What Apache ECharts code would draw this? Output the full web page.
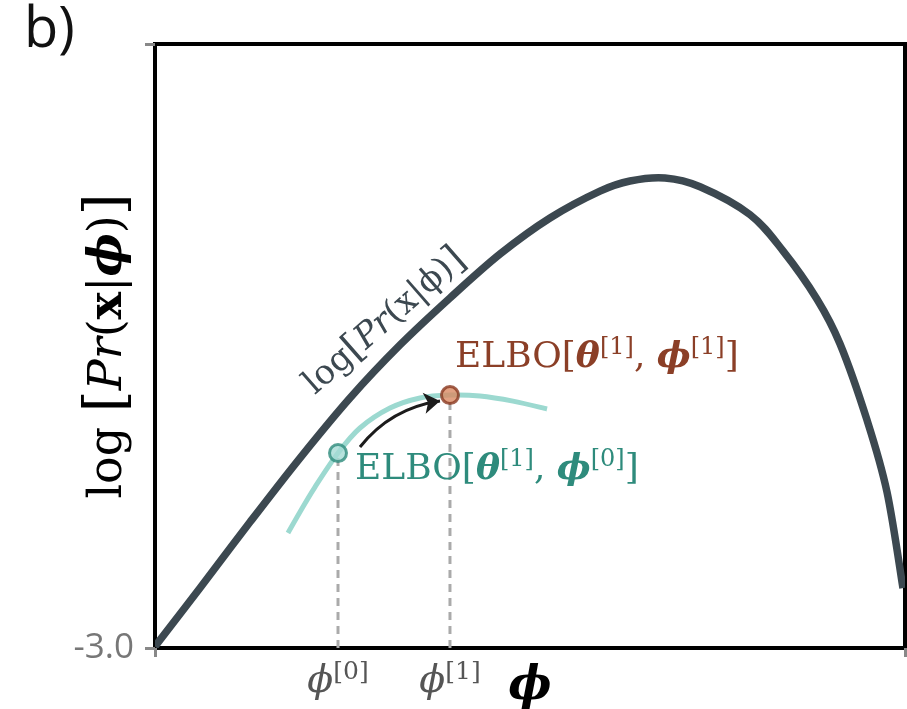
<!DOCTYPE html>
<html><head><meta charset="utf-8">
<script src="https://cdn.jsdelivr.net/npm/echarts@6/dist/echarts.min.js"></script>
<style>html,body{margin:0;padding:0;background:#fff}#c{width:907px;height:709px}</style>
</head><body><div id="c"></div>
<script>
// log-likelihood curve log[Pr(x|phi)]
const logLikX = [0, 0.6, 1.267, 1.933, 2.6, 3.267, 3.933, 4.6, 5.267, 5.933, 6.333, 6.8, 7.267, 7.933, 8.373, 8.827, 9.133, 9.493, 9.76, 9.973];
const logLikY = [-2.99, -2.603, -2.166, -1.742, -1.344, -0.993, -0.682, -0.391, -0.152, 0.026, 0.093, 0.113, 0.055, -0.13, -0.37, -0.69, -0.985, -1.490, -1.967, -2.603];
// ELBO curve for theta^[1]
const elboX = [1.773, 1.933, 2.133, 2.44, 2.733, 3.133, 3.533, 3.933, 4.333, 4.773, 5.227];
const elboY = [-2.238, -2.099, -1.934, -1.709, -1.543, -1.411, -1.344, -1.325, -1.331, -1.365, -1.417];
// optimisation steps phi^[0], phi^[1]
const phiSteps = [2.44, 3.933];
const elboSteps = [-1.709, -1.325];
const phiLabels = ['[0]', '[1]'];
// axis ticks
const xTicks = [0, 10];
const yTicks = [-3, 1];
const yTickLabels = ['-3.0'];
const yMin = -3, yMax = 1, xMin = 0, xMax = 10;
// arrow from phi^[0] to phi^[1]
const arrowFrom = [2.733, -1.669];
const arrowTo = [3.8, -1.364];
// annotation anchors (data coords)
const curveLabelAt = [3.067, -0.84];
const elbo1LabelAt = [4.0, -1.079];
const elbo0LabelAt = [2.667, -1.821];

const serif = '"DejaVu Serif", "Liberation Serif", serif';
const chart = echarts.init(document.getElementById('c'));

function zip(a, b) { return a.map((v, i) => [v, b[i]]); }

// smooth curve through the data points, positioned by the chart's own axes (api.coord)
function curveSeries(xs, ys, stroke, width, z) {
  return {
    type: 'custom', z: z, clip: true,
    data: zip(xs, ys),
    encode: { x: 0, y: 1 },
    renderItem: function (params, api) {
      if (params.dataIndex !== 0) return null;
      const pts = xs.map((x, i) => api.coord([x, ys[i]]));
      let d = 'M' + pts[0][0] + ' ' + pts[0][1];
      for (let i = 0; i < pts.length - 1; i++) {
        const p0 = pts[i - 1] || pts[i], p1 = pts[i], p2 = pts[i + 1], p3 = pts[i + 2] || pts[i + 1];
        const c1 = [p1[0] + (p2[0] - p0[0]) / 6, p1[1] + (p2[1] - p0[1]) / 6];
        const c2 = [p2[0] - (p3[0] - p1[0]) / 6, p2[1] - (p3[1] - p1[1]) / 6];
        d += ' C' + c1[0] + ' ' + c1[1] + ' ' + c2[0] + ' ' + c2[1] + ' ' + p2[0] + ' ' + p2[1];
      }
      return {
        type: 'path', shape: { pathData: d },
        style: { fill: 'none', stroke: stroke, lineWidth: width, lineCap: 'butt', lineJoin: 'round' }
      };
    }
  };
}

const option = {
  animation: false,
  backgroundColor: '#fff',
  grid: { left: 155, right: 2, top: 44, bottom: 61, containLabel: false, outerBoundsMode: 'none',
    show: true, borderColor: '#000', borderWidth: 4, backgroundColor: 'transparent' },
  xAxis: {
    type: 'value', min: xMin, max: xMax,
    axisLine: { show: false, onZero: false },
    splitLine: { show: false },
    axisTick: { show: true, customValues: xTicks, length: 9, lineStyle: { color: '#888', width: 3 } },
    axisLabel: {
      show: true, customValues: phiSteps, margin: 12,
      formatter: function (v) {
        let i = phiSteps.findIndex(p => Math.abs(p - v) < 1e-6);
        return i < 0 ? '' : '{p|ϕ}{s|' + phiLabels[i] + '}';
      },
      rich: {
        p: { fontFamily: serif, fontStyle: 'italic', fontSize: 38, color: '#555', lineHeight: 44 },
        s: { fontFamily: serif, fontSize: 25, color: '#555', lineHeight: 24, verticalAlign: 'top' }
      }
    },
    name: 'ϕ', nameLocation: 'middle', nameGap: 16, nameMoveOverlap: false,
    nameTextStyle: { fontFamily: serif, fontStyle: 'italic', fontWeight: 'bold', fontSize: 46, color: '#000' }
  },
  yAxis: {
    type: 'value', min: yMin, max: yMax,
    axisLine: { show: false, onZero: false },
    splitLine: { show: false },
    axisTick: { show: true, customValues: yTicks, length: 10, lineStyle: { color: '#888', width: 3 } },
    axisLabel: {
      show: true, customValues: [yTicks[0]], margin: 21,
      formatter: function (v) { return yTickLabels[0]; },
      fontFamily: '"Open Sans", sans-serif', fontSize: 35, color: '#777'
    },
    name: '{n|log }{b|[}{i|Pr}{n|(}{x|x}{n||}{f|ϕ}{n|)}{b|]}',
    nameLocation: 'middle', nameGap: 18, nameRotate: 90, nameMoveOverlap: false,
    nameTextStyle: {
      rich: {
        n: { fontFamily: serif, fontSize: 46, color: '#000' },
        b: { fontFamily: serif, fontSize: 56, color: '#000' },
        i: { fontFamily: serif, fontSize: 46, fontStyle: 'italic', color: '#000' },
        x: { fontFamily: serif, fontSize: 46, fontWeight: 'bold', color: '#000' },
        f: { fontFamily: serif, fontSize: 46, fontWeight: 'bold', fontStyle: 'italic', color: '#000' }
      }
    }
  },
  series: [
    curveSeries(logLikX, logLikY, '#3c4850', 7.5, 3),
    curveSeries(elboX, elboY, '#9cd9d0', 5, 2),
    {
      type: 'line', data: [[phiSteps[0], yMin], [phiSteps[0], elboSteps[0]]], showSymbol: false,
      lineStyle: { color: '#aaa', width: 3, type: [8, 6] }, z: 1
    },
    {
      type: 'line', data: [[phiSteps[1], yMin], [phiSteps[1], elboSteps[1]]], showSymbol: false,
      lineStyle: { color: '#aaa', width: 3, type: [8, 6] }, z: 1
    },
    {
      type: 'lines', coordinateSystem: 'cartesian2d', z: 4,
      symbol: ['none', 'arrow'], symbolSize: 16,
      lineStyle: { color: '#1c1c1c', width: 3, curveness: 0.2, opacity: 1 },
      data: [{ coords: [arrowFrom, arrowTo] }]
    },
    {
      type: 'scatter', z: 5, symbolSize: 17,
      data: [
        { value: [phiSteps[0], elboSteps[0]], itemStyle: { color: '#a5dbd4', borderColor: '#2e8b7c', borderWidth: 3 } },
        { value: [phiSteps[1], elboSteps[1]], itemStyle: { color: '#d98a63', borderColor: '#8a3a22', borderWidth: 3 } }
      ]
    }
  ]
};
chart.setOption(option);

function px(p) { return chart.convertToPixel({ gridIndex: 0 }, p); }
function elboRich(color) {
  return {
    n: { fontFamily: serif, fontSize: 36, fill: color, lineHeight: 44 },
    t: { fontFamily: serif, fontSize: 36, fontStyle: 'italic', fontWeight: 'bold', fill: color, lineHeight: 44 },
    s: { fontFamily: serif, fontSize: 24, fill: color, lineHeight: 24, verticalAlign: 'top' }
  };
}
const c = px(curveLabelAt), e1 = px(elbo1LabelAt), e0 = px(elbo0LabelAt);
chart.setOption({
  graphic: [
    { type: 'text', left: 24, top: 3, style: { text: 'b)', font: '400 56px "Open Sans", sans-serif', fill: '#111' } },
    {
      type: 'text', x: c[0], y: c[1], rotation: 0.72, z: 10,
      style: {
        text: '{n|log}{b|[}{i|Pr}{n|(x|ϕ)}{b|]}', align: 'center', verticalAlign: 'middle',
        rich: {
          n: { fontFamily: serif, fontSize: 34, fill: '#3c4850' },
          b: { fontFamily: serif, fontSize: 38, fill: '#3c4850' },
          i: { fontFamily: serif, fontSize: 34, fontStyle: 'italic', fill: '#3c4850' }
        }
      }
    },
    {
      type: 'text', x: e1[0], y: e1[1], z: 10,
      style: { text: '{n|ELBO[}{t|θ}{s|[1]}{n|, }{t|ϕ}{s|[1]}{n|]}', align: 'left', verticalAlign: 'middle', rich: elboRich('#8b3f27') }
    },
    {
      type: 'text', x: e0[0], y: e0[1], z: 10,
      style: { text: '{n|ELBO[}{t|θ}{s|[1]}{n|, }{t|ϕ}{s|[0]}{n|]}', align: 'left', verticalAlign: 'middle', rich: elboRich('#2e8b7c') }
    }
  ]
});
</script>
</body></html>
